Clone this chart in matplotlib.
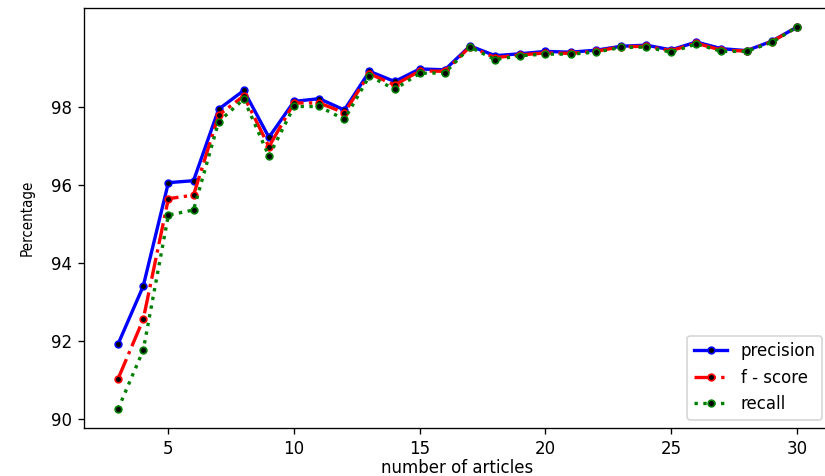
import matplotlib
matplotlib.use('Agg')
import matplotlib.pyplot as plt

# data
articles = list(range(3, 31))
precision = [91.93, 93.41, 96.06, 96.11, 97.94, 98.42, 97.22, 98.14, 98.21, 97.92,
             98.91, 98.65, 98.97, 98.95, 99.56, 99.31, 99.36, 99.42, 99.40, 99.45,
             99.55, 99.58, 99.46, 99.66, 99.49, 99.44, 99.68, 100.04]
fscore = [91.04, 92.56, 95.65, 95.74, 97.79, 98.28, 96.98, 98.10, 98.10, 97.85,
          98.85, 98.56, 98.92, 98.91, 99.54, 99.26, 99.33, 99.38, 99.37, 99.42,
          99.54, 99.55, 99.44, 99.63, 99.45, 99.43, 99.67, 100.04]
recall = [90.27, 91.77, 95.23, 95.36, 97.62, 98.20, 96.74, 98.01, 98.01, 97.68,
          98.79, 98.45, 98.86, 98.87, 99.53, 99.21, 99.31, 99.35, 99.35, 99.40,
          99.52, 99.53, 99.40, 99.61, 99.42, 99.42, 99.65, 100.04]

fig = plt.figure(figsize=(825 / 120, 476 / 120), dpi=120)
ax = fig.add_axes([0.102, 0.101, 0.905, 0.882])

ax.plot(articles, precision, '-', color='blue', lw=2, marker='o', ms=4,
        mfc='black', mec='blue', label='precision')
ax.plot(articles, fscore, '-.', color='red', lw=2, marker='o', ms=4,
        mfc='black', mec='red', label='f - score')
ax.plot(articles, recall, ':', color='green', lw=2, marker='o', ms=4,
        mfc='black', mec='green', label='recall')

ax.set_xticks([5, 10, 15, 20, 25, 30])
ax.set_yticks([90, 92, 94, 96, 98])
ax.set_xlabel('number of articles', labelpad=1)
# the y label in the reference is visibly squeezed along its length
ax.set_ylabel('Percentage', fontsize=9, fontstretch='condensed', labelpad=10)
ax.legend(loc='lower right')

fig.savefig('out.png', dpi=120)
